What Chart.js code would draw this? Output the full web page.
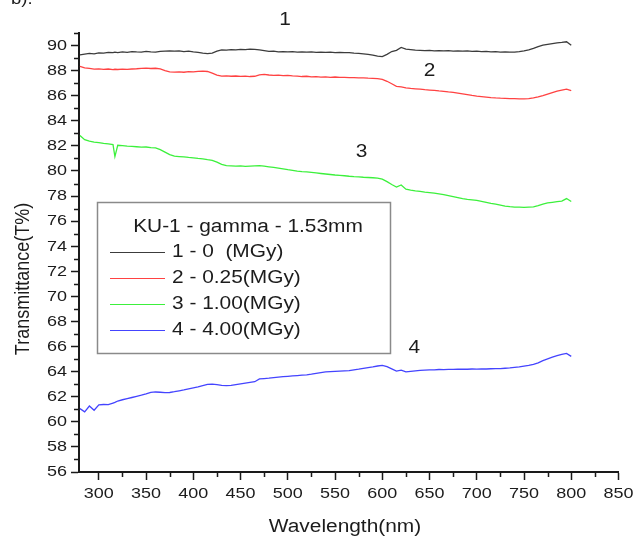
<!DOCTYPE html>
<html>
<head>
<meta charset="utf-8">
<script src="https://cdn.jsdelivr.net/npm/chart.js@4/dist/chart.umd.min.js"></script>
<style>
  html, body { margin: 0; padding: 0; background: #fff; }
  #wrap { position: relative; width: 634px; height: 538px; }
</style>
</head>
<body>
<div id="wrap"><canvas id="c" width="634" height="538"></canvas></div>
<script>
// Wavelength grid (nm)
const wavelengths = [280, 285, 290, 295, 300, 305, 310, 315, 317,
  320, 325, 330, 335, 340, 345, 350, 355, 360, 365, 370, 375, 380, 385, 390, 395,
  400, 405, 410, 415, 420, 425, 430, 435, 440, 445, 450, 455, 460, 465, 470, 475,
  480, 485, 490, 495, 500, 505, 510, 515, 520, 525, 530, 535, 540, 545, 550, 555,
  560, 565, 570, 575, 580, 585, 590, 595, 600, 605, 610, 615, 620, 625, 630, 635,
  640, 645, 650, 655, 660, 665, 670, 675, 680, 685, 690, 695, 700, 705, 710, 715,
  720, 725, 730, 735, 740, 745, 750, 755, 760, 765, 770, 775, 780, 785, 790, 795, 800];

// Transmittance (%) for each dose
const dose0 = [89.26, 89.32, 89.38, 89.34, 89.42, 89.40, 89.46, 89.43, 89.47,
  89.44, 89.50, 89.46, 89.52, 89.49, 89.47, 89.53, 89.50, 89.48, 89.54, 89.56, 89.58, 89.55, 89.57, 89.52, 89.55,
  89.50, 89.46, 89.40, 89.36, 89.40, 89.55, 89.66, 89.63, 89.68, 89.65, 89.70, 89.67, 89.72, 89.70, 89.66, 89.60,
  89.53, 89.55, 89.50, 89.52, 89.49, 89.51, 89.48, 89.50, 89.47, 89.49, 89.46, 89.48, 89.45, 89.47, 89.44, 89.46,
  89.43, 89.44, 89.40, 89.38, 89.34, 89.30, 89.24, 89.16, 89.12, 89.30, 89.52, 89.62, 89.85, 89.72, 89.68, 89.64,
  89.62, 89.60, 89.61, 89.58, 89.60, 89.57, 89.59, 89.56, 89.58, 89.55, 89.57, 89.54, 89.55, 89.52, 89.53, 89.50,
  89.51, 89.48, 89.49, 89.47, 89.48, 89.52, 89.58, 89.66, 89.78, 89.92, 90.03, 90.10, 90.16, 90.22, 90.25, 90.30, 90.02];

const dose025 = [88.33, 88.22, 88.18, 88.12, 88.14, 88.10, 88.13, 88.08, 88.11,
  88.09, 88.12, 88.10, 88.13, 88.15, 88.18, 88.20, 88.17, 88.19, 88.14, 88.00, 87.90, 87.88, 87.90, 87.87, 87.92,
  87.90, 87.94, 87.96, 87.93, 87.80, 87.65, 87.56, 87.58, 87.55, 87.57, 87.54, 87.56, 87.53, 87.55, 87.66, 87.70,
  87.65, 87.62, 87.64, 87.60, 87.62, 87.58, 87.56, 87.53, 87.55, 87.50, 87.52, 87.48, 87.50, 87.47, 87.49, 87.46,
  87.47, 87.44, 87.45, 87.42, 87.43, 87.40, 87.38, 87.36, 87.30, 87.15, 86.95, 86.75, 86.70, 86.62, 86.58, 86.55,
  86.52, 86.48, 86.45, 86.42, 86.38, 86.35, 86.30, 86.26, 86.20, 86.14, 86.08, 86.02, 85.97, 85.93, 85.89, 85.85,
  85.82, 85.80, 85.79, 85.77, 85.76, 85.75, 85.75, 85.76, 85.82, 85.90, 86.00, 86.12, 86.24, 86.36, 86.45, 86.52, 86.40];

const dose100 = [82.83, 82.50, 82.38, 82.30, 82.26, 82.20, 82.16, 82.10, 81.15,
  82.05, 82.02, 81.98, 81.96, 81.93, 81.90, 81.91, 81.86, 81.84, 81.70, 81.50, 81.30, 81.18, 81.15, 81.12, 81.08,
  81.05, 81.00, 80.96, 80.90, 80.85, 80.70, 80.52, 80.42, 80.40, 80.38, 80.40, 80.37, 80.39, 80.41, 80.43, 80.38,
  80.33, 80.28, 80.22, 80.16, 80.10, 80.05, 79.99, 79.95, 79.92, 79.88, 79.84, 79.80, 79.76, 79.72, 79.68, 79.65,
  79.62, 79.58, 79.55, 79.53, 79.50, 79.48, 79.46, 79.43, 79.35, 79.15, 78.92, 78.72, 78.88, 78.55, 78.48, 78.42,
  78.37, 78.32, 78.28, 78.24, 78.18, 78.12, 78.04, 77.96, 77.88, 77.80, 77.74, 77.70, 77.65, 77.58, 77.50, 77.42,
  77.35, 77.28, 77.20, 77.15, 77.12, 77.11, 77.10, 77.12, 77.14, 77.24, 77.36, 77.45, 77.50, 77.55, 77.60, 77.80, 77.56];

const dose400 = [61.05, 60.80, 61.26, 60.92, 61.35, 61.38, 61.37, 61.50, 61.55,
  61.66, 61.76, 61.85, 61.94, 62.03, 62.12, 62.22, 62.34, 62.38, 62.36, 62.33, 62.34, 62.40, 62.47, 62.54, 62.62,
  62.70, 62.78, 62.88, 62.98, 63.01, 62.96, 62.90, 62.88, 62.90, 62.96, 63.02, 63.08, 63.14, 63.20, 63.42, 63.45,
  63.48, 63.52, 63.56, 63.60, 63.63, 63.66, 63.69, 63.72, 63.75, 63.80, 63.86, 63.92, 63.98, 64.00, 64.02, 64.04,
  64.06, 64.08, 64.15, 64.20, 64.26, 64.32, 64.38, 64.45, 64.50, 64.40, 64.22, 64.05, 64.12, 63.98, 64.02, 64.06,
  64.10, 64.12, 64.14, 64.15, 64.17, 64.16, 64.18, 64.18, 64.19, 64.20, 64.19, 64.21, 64.20, 64.22, 64.21, 64.23,
  64.24, 64.24, 64.27, 64.30, 64.34, 64.38, 64.44, 64.50, 64.58, 64.70, 64.88, 65.02, 65.15, 65.28, 65.38, 65.45, 65.22];

const seriesNames = ['1 - 0  (MGy)', '2 - 0.25(MGy)', '3 - 1.00(MGy)', '4 - 4.00(MGy)'];
const curveTags = ['1', '2', '3', '4'];
const legendTitle = 'KU-1 - gamma - 1.53mm';
const xTitle = 'Wavelength(nm)';
const yTitle = 'Transmittance(T%)';

const FONT = "'Liberation Sans', Arial, sans-serif";
const colors = ['#3c3c3c', '#ff4242', '#3cf03c', '#4444ff'];
const TEXT = '#1c1c1c';
const STRETCH = 1.16;   // text is set slightly wide

function pts(vals) {
  return wavelengths.map((w, i) => ({ x: w, y: vals[i] }));
}

// Curve tags placed in data coordinates (nm, %T)
const tagAnchors = [[497, 92.0], [650, 88.0], [578, 81.5], [634, 65.9]];

// wide text helper
function wideText(ctx, str, x, y, align, size, rot) {
  ctx.save();
  ctx.translate(x, y);
  if (rot) { ctx.rotate(rot); ctx.scale(1, STRETCH); } else { ctx.scale(STRETCH, 1); }
  ctx.font = size + 'px ' + FONT;
  ctx.textAlign = align;
  ctx.textBaseline = 'middle';
  ctx.fillStyle = TEXT;
  ctx.fillText(str, 0, 0);
  ctx.restore();
}

const decorations = {
  id: 'decorations',
  afterDraw(chart) {
    const ctx = chart.ctx;
    const xs = chart.scales.x, ys = chart.scales.y;
    ctx.save();
    // minor ticks
    ctx.strokeStyle = '#1a1a1a';
    ctx.lineWidth = 1.5;
    ctx.beginPath();
    for (let v = 57; v <= 91; v += 2) {
      const py = Math.round(ys.getPixelForValue(v)) + 0.5;
      ctx.moveTo(xs.left - 5, py); ctx.lineTo(xs.left, py);
    }
    for (let v = 325; v <= 825; v += 50) {
      const px = Math.round(xs.getPixelForValue(v)) + 0.5;
      ctx.moveTo(px, ys.bottom); ctx.lineTo(px, ys.bottom + 5);
    }
    ctx.stroke();

    // tick labels
    ys.ticks.forEach(t => {
      wideText(ctx, String(t.value), xs.left - 12, ys.getPixelForValue(t.value), 'right', 15.5);
    });
    xs.ticks.forEach(t => {
      wideText(ctx, String(t.value), xs.getPixelForValue(t.value), ys.bottom + 22, 'center', 15.5);
    });

    // axis titles
    wideText(ctx, xTitle, 345, 527, 'center', 18);
    wideText(ctx, yTitle, 23, 279, 'center', 18, -Math.PI / 2);

    // top-left panel letter (partly cut off)
    wideText(ctx, 'b).', 11, 0, 'left', 16);

    // curve tags
    tagAnchors.forEach((a, i) => {
      wideText(ctx, curveTags[i], xs.getPixelForValue(a[0]), ys.getPixelForValue(a[1]), 'center', 18);
    });

    // legend box
    const bx = 97.5, by = 202.5, bw = 293, bh = 151;
    ctx.fillStyle = '#fff';
    ctx.fillRect(bx, by, bw, bh);
    ctx.strokeStyle = '#8a8a8a';
    ctx.lineWidth = 1.5;
    ctx.strokeRect(bx, by, bw, bh);
    wideText(ctx, legendTitle, 248, 227, 'center', 18);
    const rows = [252, 278, 304, 330];
    rows.forEach((ry, i) => {
      ctx.strokeStyle = colors[i];
      ctx.lineWidth = 1.2;
      ctx.beginPath();
      ctx.moveTo(110, ry + 0.5); ctx.lineTo(165, ry + 0.5);
      ctx.stroke();
      wideText(ctx, seriesNames[i], 172, ry, 'left', 18);
    });
    ctx.restore();
  }
};

new Chart(document.getElementById('c'), {
  type: 'line',
  data: {
    datasets: [dose0, dose025, dose100, dose400].map((vals, i) => ({
      label: seriesNames[i],
      data: pts(vals),
      borderColor: colors[i],
      borderWidth: 1.3,
      pointRadius: 0,
      tension: 0,
      fill: false
    }))
  },
  options: {
    responsive: false,
    animation: false,
    events: [],
    layout: { padding: { left: 0, top: 33, right: 15, bottom: 0 } },
    plugins: { legend: { display: false }, tooltip: { enabled: false } },
    scales: {
      x: {
        type: 'linear',
        min: 279,
        max: 850,
        afterFit(s) { s.height = 66; },
        border: { display: true, color: '#1a1a1a', width: 2 },
        grid: { display: true, drawOnChartArea: false, drawTicks: true, tickLength: 8, tickColor: '#1a1a1a', tickWidth: 1.5 },
        ticks: { stepSize: 50, includeBounds: false, autoSkip: false, maxRotation: 0,
                 color: 'rgba(0,0,0,0)', font: { family: FONT, size: 15 } },
        title: { display: false }
      },
      y: {
        type: 'linear',
        min: 56,
        max: 91,
        afterFit(s) { s.width = 79; },
        border: { display: true, color: '#1a1a1a', width: 2 },
        grid: { display: true, drawOnChartArea: false, drawTicks: true, tickLength: 8, tickColor: '#1a1a1a', tickWidth: 1.5 },
        ticks: { stepSize: 2, includeBounds: false, autoSkip: false,
                 color: 'rgba(0,0,0,0)', font: { family: FONT, size: 15 } },
        title: { display: false }
      }
    }
  },
  plugins: [decorations]
});
</script>
</body>
</html>
